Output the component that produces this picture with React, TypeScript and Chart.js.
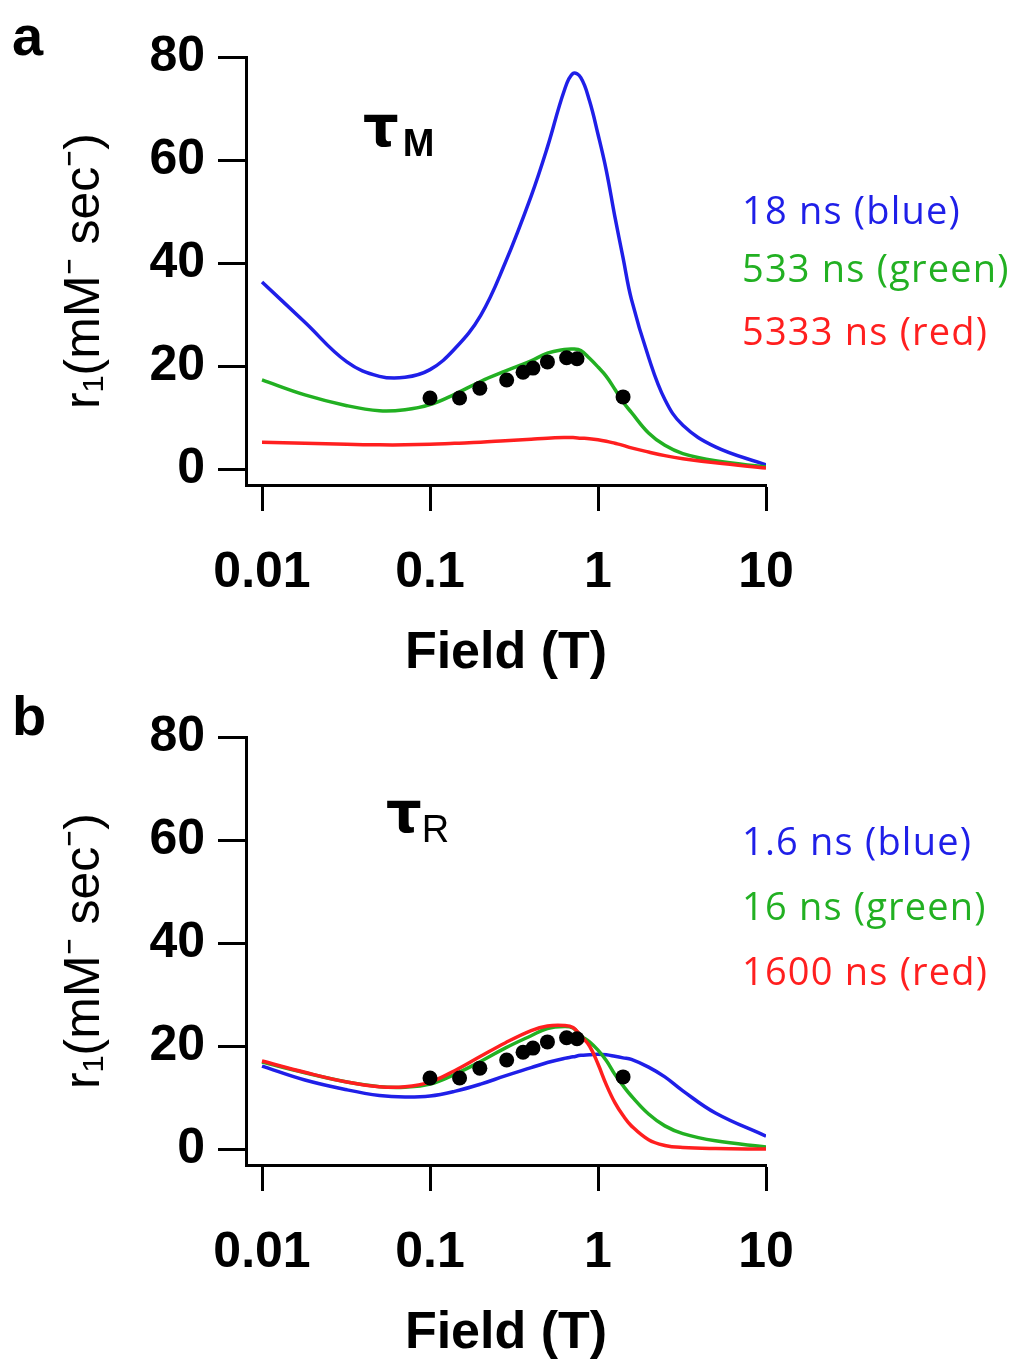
import React, { useEffect, useRef } from "react";
import { Chart, registerables } from "chart.js";

Chart.register(...registerables);

// Magnetic field (T), log-spaced sample points of the simulated curves
const FIELD = [0.01, 0.018, 0.032, 0.05, 0.071, 0.1, 0.14, 0.2, 0.28, 0.4, 0.5, 0.63, 0.71, 0.79, 0.89, 1.0, 1.12, 1.26, 1.41, 1.58, 2.0, 2.5, 3.2, 5.0, 10];

// Panel a: tau_M
const A_BLUE = [36.3, 28.5, 20.8, 18.0, 17.8, 19.3, 23.3, 29.8, 40.0, 53.0, 62.5, 73.5, 76.8, 76.0, 71.5, 65.0, 58.0, 49.0, 41.0, 33.0, 21.7, 13.5, 8.5, 4.3, 0.8];
const A_GREEN = [17.3, 14.4, 12.3, 11.3, 11.5, 12.5, 14.5, 17.0, 19.0, 21.0, 22.5, 23.2, 23.3, 23.0, 21.5, 19.8, 18.0, 15.5, 13.0, 11.0, 7.0, 4.6, 3.0, 1.6, 0.4];
const A_RED = [5.2, 5.0, 4.8, 4.7, 4.7, 4.8, 5.0, 5.2, 5.5, 5.8, 6.0, 6.1, 6.1, 6.0, 5.9, 5.7, 5.4, 5.0, 4.6, 4.1, 3.3, 2.6, 2.0, 1.2, 0.2];

// Panel b: tau_R
const B_BLUE = [16.1, 13.4, 11.5, 10.4, 10.1, 10.3, 11.2, 12.6, 14.2, 15.8, 16.8, 17.6, 17.9, 18.2, 18.3, 18.4, 18.3, 18.0, 17.7, 17.4, 15.9, 14.0, 11.3, 7.0, 2.5];
const B_GREEN = [16.9, 14.8, 13.0, 12.1, 12.0, 12.6, 14.5, 17.0, 19.6, 22.0, 23.4, 23.8, 23.5, 22.0, 20.8, 19.2, 17.2, 14.5, 12.3, 10.3, 6.8, 4.5, 3.0, 1.6, 0.4];
const B_RED = [17.1, 14.9, 13.0, 12.1, 12.1, 13.0, 15.2, 18.0, 20.6, 23.0, 23.9, 24.0, 23.6, 22.0, 20.0, 16.5, 12.5, 9.0, 6.5, 4.5, 1.8, 0.7, 0.3, 0.1, 0.0];

// Measured data (black dots)
const DOT_FIELD = [0.1, 0.15, 0.198, 0.286, 0.358, 0.41, 0.5, 0.65, 0.75, 1.41];
const DOT_R1 = [13.8, 13.8, 15.7, 17.3, 18.8, 19.6, 20.8, 21.6, 21.4, 14.0];

const X_TICKS = [0.01, 0.1, 1, 10];
const Y_TICKS = [0, 20, 40, 60, 80];

const A_LEGEND = ["18 ns (blue)", "533 ns (green)", "5333 ns (red)"];
const B_LEGEND = ["1.6 ns (blue)", "16 ns (green)", "1600 ns (red)"];

const BLUE = "#1f1fe8";
const GREEN = "#22b022";
const RED = "#ff1f1f";
const AXIS_FONT = '"Liberation Sans", Arial, sans-serif';

const W = 1021;
const H = 680;

function pts(ys: number[]) {
  return FIELD.map((x, i) => ({ x, y: ys[i] }));
}

function makeChart(canvas: HTMLCanvasElement, blue: number[], green: number[], red: number[]) {
  const lineDs = (label: string, ys: number[], color: string, order: number) => ({
    label,
    data: pts(ys),
    borderColor: color,
    backgroundColor: color,
    borderWidth: 3.5,
    pointRadius: 0,
    tension: 0.4,
    fill: false,
    order,
  });
  return new Chart(canvas, {
    type: "line",
    data: {
      datasets: [
        {
          label: "data",
          data: DOT_FIELD.map((x, i) => ({ x, y: DOT_R1[i] })),
          showLine: false,
          pointRadius: 7.5,
          pointBackgroundColor: "#000",
          pointBorderColor: "#000",
          pointBorderWidth: 0,
          order: 0,
        } as any,
        lineDs("red", red, RED, 1),
        lineDs("green", green, GREEN, 2),
        lineDs("blue", blue, BLUE, 3),
      ],
    },
    options: {
      animation: false,
      responsive: false,
      maintainAspectRatio: false,
      layout: { padding: { top: 57, right: W - 766, bottom: 0, left: 0 } },
      plugins: { legend: { display: false }, tooltip: { enabled: false } },
      scales: {
        x: {
          type: "logarithmic",
          min: 0.00803,
          max: 10,
          afterBuildTicks: (s: any) => {
            s.ticks = X_TICKS.map((v) => ({ value: v }));
          },
          afterFit: (s: any) => {
            s.height = H - 485;
          },
          border: { display: true, color: "#000", width: 3 },
          grid: { display: true, drawOnChartArea: false, drawTicks: true, tickLength: 26, tickWidth: 3, tickColor: "#000", color: "#000" },
          ticks: {
            color: "#000",
            autoSkip: false,
            maxRotation: 0,
            padding: 32,
            font: { family: AXIS_FONT, size: 50, weight: "bold" },
            callback: (v: any) => String(v),
          },
          title: {
            display: true,
            text: "Field (T)",
            color: "#000",
            font: { family: AXIS_FONT, size: 52, weight: "bold", lineHeight: 1 },
            padding: { top: 0, bottom: 0 },
          },
        } as any,
        y: {
          min: -3.1,
          max: 80,
          afterBuildTicks: (s: any) => {
            s.ticks = Y_TICKS.map((v) => ({ value: v }));
          },
          afterFit: (s: any) => {
            s.width = 246;
          },
          border: { display: true, color: "#000", width: 3 },
          grid: { display: true, drawOnChartArea: false, drawTicks: true, tickLength: 28, tickWidth: 3, tickColor: "#000", color: "#000" },
          ticks: {
            color: "#000",
            padding: 13,
            font: { family: AXIS_FONT, size: 50, weight: "bold" },
          },
          title: {
            display: true,
            text: "r\u2081(mM\u207B sec\u207B)",
            color: "#000",
            font: { family: AXIS_FONT, size: 50, weight: "normal", lineHeight: 1 },
            padding: { top: 60, bottom: 0 },
          },
        } as any,
      },
    },
  });
}

function Panel(props: {
  top: number;
  blue: number[];
  green: number[];
  red: number[];
  letter: string;
  letterTop: number;
  tauSub: string;
  tauLeft: number;
  tauTop: number;
  subBold: boolean;
  subDrop: number;
  subGap: number;
  legend: string[];
  legendCenters: number[];
}) {
  const ref = useRef<HTMLCanvasElement | null>(null);
  useEffect(() => {
    if (!ref.current) return;
    const c = makeChart(ref.current, props.blue, props.green, props.red);
    return () => c.destroy();
  }, []);
  const colors = [BLUE, GREEN, RED];
  return (
    <div style={{ position: "absolute", left: 0, top: props.top, width: W, height: H }}>
      <canvas ref={ref} width={W} height={H} style={{ position: "absolute", left: 0, top: 0, width: W, height: H }} />
      <div
        style={{
          position: "absolute",
          left: 12,
          top: props.letterTop,
          font: `bold 56px ${AXIS_FONT}`,
          lineHeight: "56px",
          color: "#000",
        }}
      >
        {props.letter}
      </div>
      <div style={{ position: "absolute", left: props.tauLeft, top: props.tauTop, color: "#000", whiteSpace: "nowrap", lineHeight: 1 }}>
        <span style={{ font: `bold 56px "DejaVu Sans", sans-serif` }}>τ</span>
        <span
          style={{
            font: `${props.subBold ? "bold" : "normal"} 38px ${AXIS_FONT}`,
            position: "relative",
            top: props.subDrop,
            marginLeft: props.subGap,
          }}
        >
          {props.tauSub}
        </span>
      </div>
      {props.legend.map((t, i) => (
        <div
          key={t}
          style={{
            position: "absolute",
            left: 742,
            top: props.legendCenters[i] - 22,
            height: 44,
            lineHeight: "44px",
            font: `38px "Open Sans", sans-serif`,
            letterSpacing: "1.2px",
            color: colors[i],
            whiteSpace: "nowrap",
          }}
        >
          {t}
        </div>
      ))}
    </div>
  );
}

export default function App() {
  return (
    <div style={{ position: "fixed", left: 0, top: 0, width: W, height: 1360, background: "#fff", overflow: "hidden" }}>
      <Panel
        top={0}
        blue={A_BLUE}
        green={A_GREEN}
        red={A_RED}
        letter="a"
        letterTop={8}
        tauSub="M"
        tauLeft={363}
        tauTop={94}
        subBold={true}
        subDrop={10}
        subGap={4}
        legend={A_LEGEND}
        legendCenters={[205, 263, 326]}
      />
      <Panel
        top={680}
        blue={B_BLUE}
        green={B_GREEN}
        red={B_RED}
        letter="b"
        letterTop={8}
        tauSub="R"
        tauLeft={386}
        tauTop={100}
        subBold={false}
        subDrop={10}
        subGap={0}
        legend={B_LEGEND}
        legendCenters={[156, 221, 286]}
      />
    </div>
  );
}
